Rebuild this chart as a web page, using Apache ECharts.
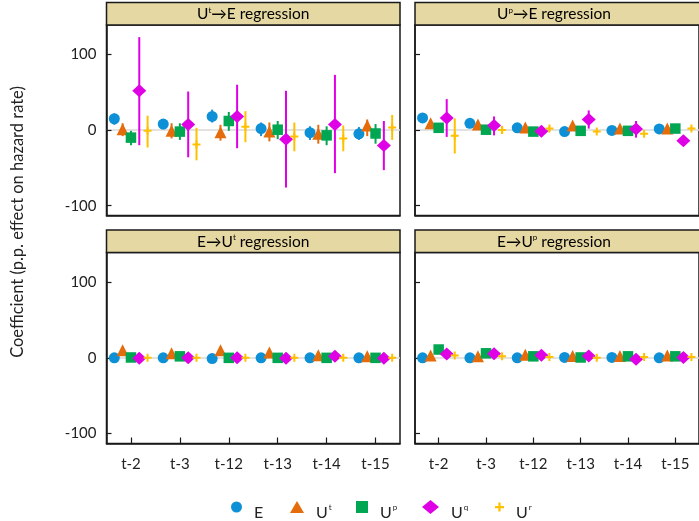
<!DOCTYPE html>
<html><head><meta charset="utf-8">
<script src="https://cdn.jsdelivr.net/npm/echarts@6/dist/echarts.min.js"></script>
<style>html,body{margin:0;padding:0;background:#fff}#c{width:699px;height:521px}</style>
</head><body><div id="c"></div>
<script>
// ---------- data ----------
const categories = ['t-2', 't-3', 't-12', 't-13', 't-14', 't-15'];
const yTickValues = [-100, 0, 100];
const seriesKeys = ['E', 'Ut', 'Up', 'Uq', 'Ur'];
// panel titles: [before superscript, superscript, after superscript]
const panelTitles = [['U', 't', '→E regression'], ['U', 'p', '→E regression'], ['E→U', 't', ' regression'], ['E→U', 'p', ' regression']];

// [estimate, ci low, ci high] per category
// Panel 1: U^t -> E
const utE_E  = [[15, 7, 22], [8, 1, 13], [18, 10, 27], [2, -8, 10], [-3.5, -13, 5], [-5, -13, 4]];
const utE_Ut = [[1, -8, 9], [-1, -11, 9], [-3, -14, 7], [-2, -15, 10], [-5, -18, 7], [6, -8, 14]];
const utE_Up = [[-10, -20, -1], [-2, -13, 9], [12, -1, 24], [0.5, -12, 12], [-7, -20, 5], [-4.5, -18, 8]];
const utE_Uq = [[52, -20, 123], [7.5, -36, 51], [18, -24, 60], [-12, -76, 52], [7.5, -57, 73], [-20.5, -53, 12]];
const utE_Ur = [[-1, -23, 19], [-19, -40, 3], [4.5, -16, 25], [-8.5, -28, 10], [-11, -28, 6], [3.5, -13, 20]];
// Panel 2: U^p -> E
const upE_E  = [[16, 13, 19], [9, 6, 12], [3, 1, 5], [-2, -4, 0], [-0.5, -2.5, 1.5], [1.5, -0.5, 3.5]];
const upE_Ut = [[9, 6, 12], [7.5, 5, 10], [3.5, 1.5, 5.5], [6, 4, 8], [2, 0, 4], [2, 0, 4]];
const upE_Up = [[3, 0, 6], [0.5, -2, 3], [-2, -4, 0], [-1, -3, 1], [-1, -3, 1], [2, 0, 4]];
const upE_Uq = [[16, -9, 41], [6, -7, 18], [-1.5, -5, 2], [14, 2, 26], [1.5, -10, 12], [-14, -17, -11]];
const upE_Ur = [[-7.5, -31, 15.5], [0, -5, 5], [2, -1, 5], [-2, -4, 0], [-5, -7, -3], [2, 0, 4]];
// Panel 3: E -> U^t
const eUt_E  = [[0, -1, 1], [0, -1, 1], [-1, -2, 0], [0, -1, 1], [0, -1, 1], [0, -1, 1]];
const eUt_Ut = [[10, 9, 11], [6, 5, 7], [10, 9, 11], [7, 6, 8], [3.5, 2.5, 4.5], [2, 1, 3]];
const eUt_Up = [[0.5, -0.5, 1.5], [2, 1, 3], [0, -1, 1], [0, -1, 1], [0, -1, 1], [0, -1, 1]];
const eUt_Uq = [[-0.5, -1.5, 0.5], [0, -1, 1], [0, -1, 1], [-0.5, -1.5, 0.5], [2, 1, 3], [-0.5, -1.5, 0.5]];
const eUt_Ur = [[0, -1, 1], [0, -1, 1], [0, -1, 1], [0, -1, 1], [0, -1, 1], [0, -1, 1]];
// Panel 4: E -> U^p
const eUp_E  = [[0, -1, 1], [0, -1, 1], [0, -1, 1], [0.5, -0.5, 1.5], [0.5, -0.5, 1.5], [0, -1, 1]];
const eUp_Ut = [[3, 2, 4], [2, 1, 3], [4, 3, 5], [2.5, 1.5, 3.5], [2.5, 1.5, 3.5], [3, 2, 4]];
const eUp_Up = [[11, 10, 12], [6, 5, 7], [2, 1, 3], [0.5, -0.5, 1.5], [2, 1, 3], [2, 1, 3]];
const eUp_Uq = [[5, 4, 6], [5.5, 4.5, 6.5], [3.5, 2.5, 4.5], [2.5, 1.5, 3.5], [-2, -3, -1], [0.5, -0.5, 1.5]];
const eUp_Ur = [[3, 2, 4], [2, 1, 3], [1, 0, 2], [0, -1, 1], [1, 0, 2], [1, 0, 2]];

const panelData = [
  [utE_E, utE_Ut, utE_Up, utE_Uq, utE_Ur],
  [upE_E, upE_Ut, upE_Up, upE_Uq, upE_Ur],
  [eUt_E, eUt_Ut, eUt_Up, eUt_Uq, eUt_Ur],
  [eUp_E, eUp_Ut, eUp_Up, eUp_Uq, eUp_Ur]
];

// ---------- style / layout ----------
const FONT = 'Lato, "Open Sans", sans-serif';
const colors = ['#0e90d6', '#e46c0a', '#00a651', '#e000e6', '#ffc000'];
const plusPath = 'path://M3,0h2v3h3v2h-3v3h-2v-3h-3v-2h3z';
const symbols = ['circle', 'triangle', 'rect', 'diamond', plusPath];
const symSizes = [11, [12, 12], 10.5, [14, 13], [8, 8]];
const legendSizes = [[11, 11], [14, 12], [12, 12], [17, 14], [9, 9]];
const legendLeft = [231, 290, 356, 422, 495];
const offsets = [-0.34, -0.17, 0, 0.17, 0.34];
const grids = [
  {left: 106.5, top: 25, width: 293.5, height: 190.5},
  {left: 415, top: 25, width: 294, height: 190.5},
  {left: 106.5, top: 252.5, width: 293.5, height: 191},
  {left: 415, top: 252.5, width: 294, height: 191}
];
const Y_MIN = -113, Y_MAX = 139;

const chart = echarts.init(document.getElementById('c'), null, {renderer: 'canvas'});

const xAxes = [], yAxes = [], series = [], graphics = [];
grids.forEach((g, gi) => {
  const bottomRow = gi >= 2, leftCol = gi % 2 === 0;
  xAxes.push({
    type: 'category', gridIndex: gi, data: categories, boundaryGap: true,
    axisLine: {show: true, onZero: false, lineStyle: {color: '#1a1a1a', width: 1.5}},
    axisTick: {show: bottomRow, inside: true, length: 6, alignWithLabel: true, lineStyle: {color: '#1a1a1a', width: 1.2}},
    axisLabel: {show: bottomRow, fontFamily: FONT, fontSize: 15, color: '#222', margin: 13},
    splitLine: {show: false}
  });
  xAxes.push({type: 'value', gridIndex: gi, min: -0.5, max: 5.5, show: false,
    axisLine: {show: false, onZero: false}});
  yAxes.push({
    type: 'value', gridIndex: gi, min: Y_MIN, max: Y_MAX, splitNumber: 2,
    axisLine: {show: true, onZero: false, lineStyle: {color: '#1a1a1a', width: 1.5}},
    axisTick: {show: true, inside: true, length: 5, customValues: yTickValues, lineStyle: {color: '#1a1a1a', width: 1.2}},
    axisLabel: {show: leftCol, customValues: yTickValues, fontFamily: FONT, fontSize: 15, color: '#222', margin: 10},
    splitLine: {show: true, showMinLine: false, showMaxLine: false, lineStyle: {color: '#d9d9d9', width: 1.5}}
  });
  panelData[gi].forEach((arr, si) => {
    series.push({
      type: 'custom', name: seriesKeys[si] + '_ci', xAxisIndex: gi * 2 + 1, yAxisIndex: gi,
      itemStyle: {color: colors[si]}, z: 2, silent: true,
      data: arr.map((d, i) => [i + offsets[si], d[1], d[2]]),
      renderItem: (params, api) => {
        const a = api.coord([api.value(0), api.value(1)]);
        const b = api.coord([api.value(0), api.value(2)]);
        return {type: 'line', shape: {x1: a[0], y1: a[1], x2: b[0], y2: b[1]},
                style: {stroke: colors[si], lineWidth: 2}};
      }
    });
  });
  panelData[gi].forEach((arr, si) => {
    series.push({
      type: 'scatter', name: seriesKeys[si], xAxisIndex: gi * 2 + 1, yAxisIndex: gi,
      symbol: symbols[si], symbolSize: symSizes[si], z: 3, silent: true,
      itemStyle: {color: colors[si], opacity: 1},
      data: arr.map((d, i) => [i + offsets[si], d[0]])
    });
  });
  // panel header
  const hx = g.left, hw = g.width, hy = g.top - 22.5;
  graphics.push({type: 'rect', shape: {x: hx, y: hy, width: hw, height: 22.5},
    style: {fill: '#e6d8a2', stroke: '#1a1a1a', lineWidth: 1.5}, z: 10});
  const t = panelTitles[gi];
  graphics.push({type: 'text', x: hx + hw / 2 - (gi % 2 ? 8 : 0), y: hy + 11.5, z: 11,
    style: {text: '{m|' + t[0] + '}{s|' + t[1] + '}{m|' + t[2] + '}',
      align: 'center', verticalAlign: 'middle', textAlign: 'center', textVerticalAlign: 'middle',
      rich: {m: {fontFamily: FONT, fontSize: 15.5, color: '#111', lineHeight: 18},
             s: {fontFamily: FONT, fontSize: 8, color: '#111', lineHeight: 8, verticalAlign: 'top', padding: [1, 0, 0, 0]}}}});
});

graphics.push({type: 'text', x: 18, y: 222, rotation: Math.PI / 2, z: 11,
  style: {text: 'Coefficient (p.p. effect on hazard rate)', fontFamily: FONT, fontSize: 16.5, fill: '#222',
    align: 'center', verticalAlign: 'middle', textAlign: 'center', textVerticalAlign: 'middle'}});

const legends = seriesKeys.map((k, si) => ({
  data: [{name: k, icon: symbols[si]}],
  left: legendLeft[si], top: 493, padding: 0,
  itemWidth: legendSizes[si][0], itemHeight: legendSizes[si][1],
  selectedMode: false,
  itemStyle: {color: colors[si]},
  formatter: (name) => name === 'E' ? '{m|E}' : '{m|U}{s|' + name.slice(1) + '}',
  textStyle: {rich: {
    m: {fontFamily: FONT, fontSize: 16, color: '#222', lineHeight: 20, padding: [12, 0, 0, 7]},
    s: {fontFamily: FONT, fontSize: 8, color: '#222', lineHeight: 8, padding: [0, 0, 0, 1]}
  }}
}));

chart.setOption({
  animation: false,
  backgroundColor: '#fff',
  grid: grids.map(g => Object.assign({show: true, borderColor: '#1a1a1a', borderWidth: 1.5, backgroundColor: 'transparent'}, g)),
  xAxis: xAxes,
  yAxis: yAxes,
  legend: legends,
  graphic: graphics,
  series: series
});
</script></body></html>
